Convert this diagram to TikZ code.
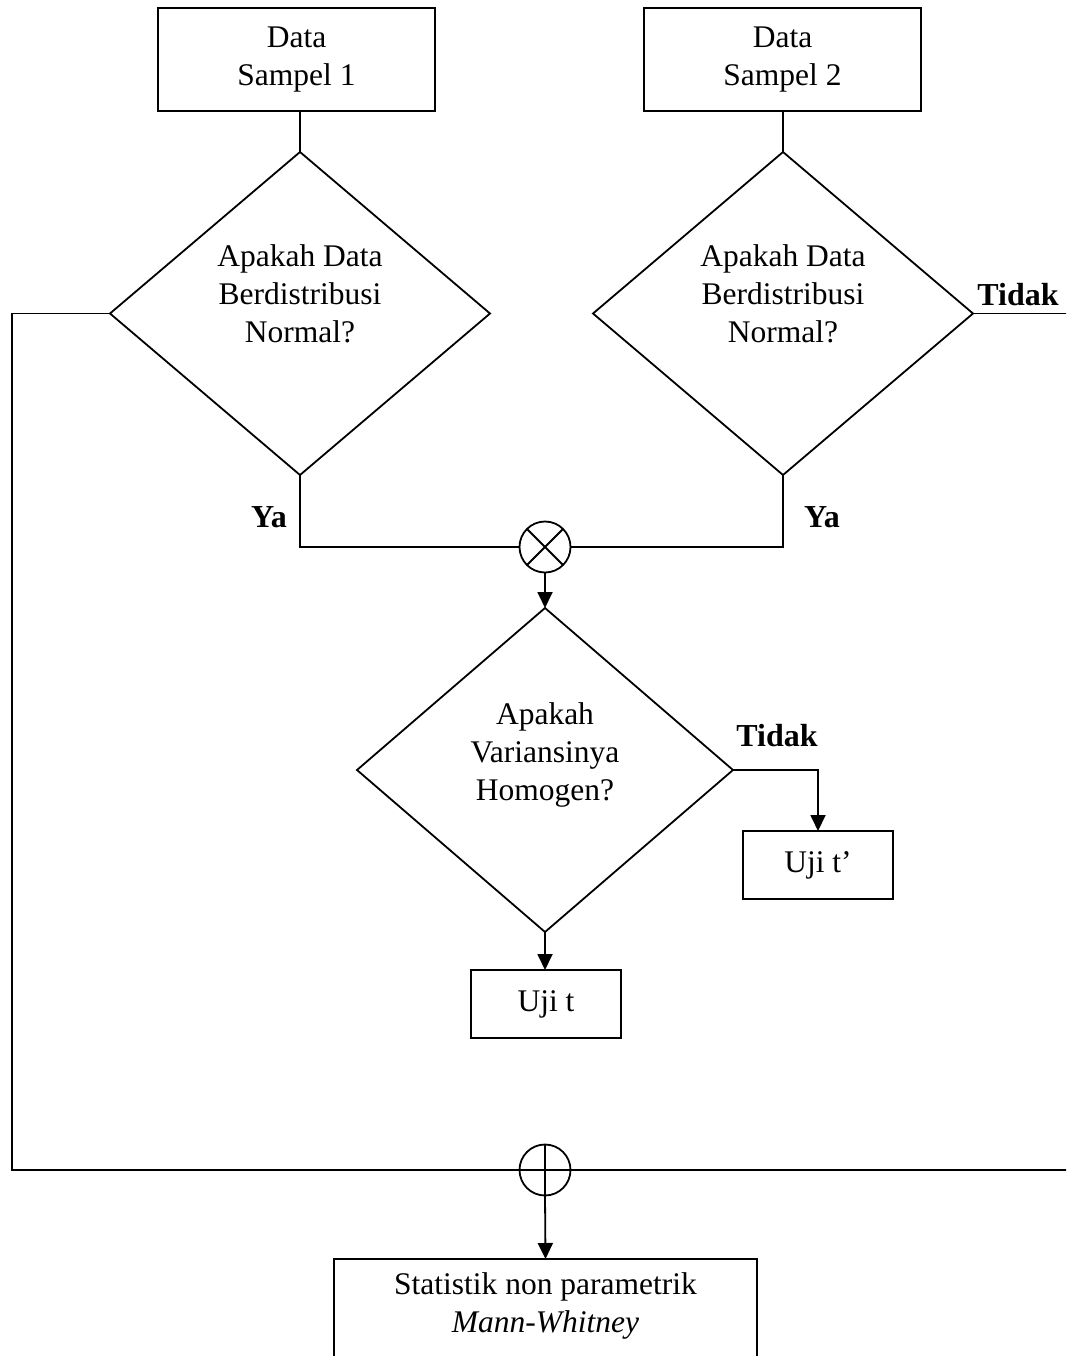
\documentclass[tikz,border=0pt]{standalone}
\usepackage{fontspec}
\setmainfont{Liberation Serif}
\usetikzlibrary{shapes.geometric,arrows.meta}
\begin{document}
\begin{tikzpicture}[x=1pt,y=-1pt,
  every node/.style={font=\fontsize{31.5}{38}\selectfont, inner sep=0pt, outer sep=0pt},
  stepbox/.style={draw, line width=1.8pt, minimum width=277pt, minimum height=103pt, align=center},
  smallbox/.style={draw, line width=1.8pt, minimum width=150pt, minimum height=68pt, align=center},
  decision/.style={draw, diamond, line width=1.8pt, minimum width=380pt, minimum height=323pt},
  txt/.style={align=center},
  lbl/.style={font=\fontsize{32}{38}\selectfont\bfseries, anchor=base},
  junction/.style={draw, circle, line width=1.8pt, minimum size=51pt},
  conn/.style={line width=1.8pt},
  arr/.style={line width=1.8pt, -{Triangle[length=16pt,width=15pt]}}
]
\clip (0,0) rectangle (1066,1356);
\fill[white] (0,0) rectangle (1066,1356);

% top boxes
\node[stepbox] (b1) at (296.5,59.5) {Data\\Sampel 1};
\node[stepbox] (b2) at (782.5,59.5) {Data\\Sampel 2};

% decisions
\node[decision] (d1) at (300,313.5) {};
\node[txt] (d1t) at (300,294) {Apakah Data\\Berdistribusi\\Normal?};
\node[decision] (d2) at (783,313.5) {};
\node[txt] (d2t) at (783,294) {Apakah Data\\Berdistribusi\\Normal?};

% junctions
\node[junction] (x) at (545,547) {};
\draw[conn] (x.north west) -- (x.south east) (x.north east) -- (x.south west);
\node[junction] (p) at (545,1170) {};
\draw[conn] (p.north) -- (p.south) (p.west) -- (p.east);

% third decision
\node[decision, minimum width=376pt, minimum height=324pt] (d3) at (545,770) {};
\node[txt] (d3t) at (545,755) {Apakah\\Variansinya\\Homogen?};

% result boxes
\node[smallbox] (u1) at (546,1004) {Uji t};
\node[smallbox] (u2) at (818,865) {Uji t’};
\node[draw, line width=1.8pt, minimum width=423pt, minimum height=160pt, anchor=north] (bb) at (545.5,1259) {};
\node[txt] (bbt) at (545.5,1306) {Statistik non parametrik\\\textit{Mann-Whitney}};

% labels
\node[lbl] (ya1) at (269,527) {Ya};
\node[lbl] (ya2) at (822,527) {Ya};
\node[lbl] (t1) at (1018,305) {Tidak};
\node[lbl] (t2) at (777,746) {Tidak};

% coordinates for free ends
\coordinate (L1) at (12,313.5);
\coordinate (R1) at (1075,313.5);
\coordinate (R2) at (1075,1170);

% connectors
\draw[conn] (b1.south -| d1.north) -- (d1.north);
\draw[conn] (b2.south -| d2.north) -- (d2.north);
\draw[conn] (d1.west) -- (L1) |- (p.west);
\draw[conn] (d2.east) -- (R1);
\draw[conn] (p.east) -- (R2);
\draw[conn] (d1.south) |- (x.west);
\draw[conn] (d2.south) |- (x.east);
\draw[arr] (x.south) -- (d3.north);
\draw[arr] (d3.east) -| (u2.north);
\draw[arr] (d3.south) -- (u1.north -| d3.south);
\draw[arr] (p.south) -- (bb.north);
\end{tikzpicture}
\end{document}
